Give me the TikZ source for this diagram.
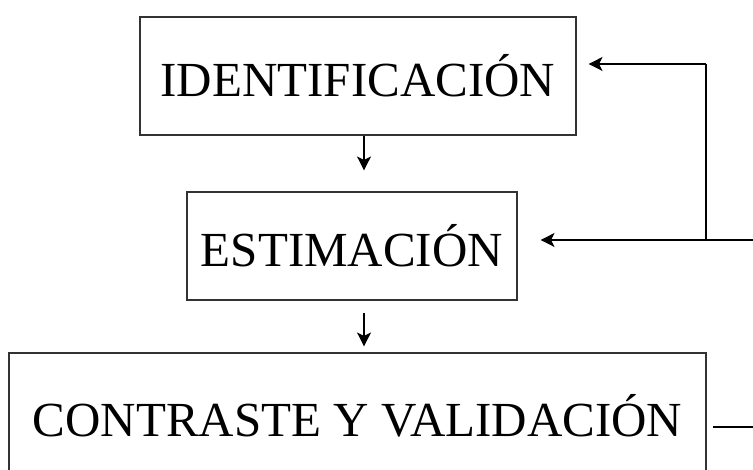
\documentclass[tikz,border=0pt]{standalone}
\usepackage{fontspec}
\setmainfont{Liberation Serif}
\usetikzlibrary{arrows.meta}
\begin{document}
\begin{tikzpicture}[x=1pt,y=-1pt,
  box/.style={draw=black!80,line width=1.1pt,inner sep=0pt,font=\fontsize{49}{49}\selectfont},
  conn/.style={draw=black,line width=1.1pt},
  arr/.style={conn,arrows={-Stealth[length=14pt,width=14pt,inset=3.5pt]}}]
\useasboundingbox (0,0) rectangle (753,470);
\node[box,minimum width=436pt,minimum height=118pt,text height=42pt,text depth=0pt] (b1) at (358,76) {IDENTIFICACIÓN};
\node[box,minimum width=330pt,minimum height=108pt,text height=41pt,text depth=0pt] (b2) at (352,246) {ESTIMACIÓN};
\node[box,minimum width=697pt,minimum height=166pt,text height=20pt,text depth=20pt] (b3) at (357.5,436) {CONTRASTE Y VALIDACIÓN};
\coordinate (ax) at (364,0);
\coordinate (e1) at (753,427);
\coordinate (e2) at (753,240);
\coordinate (j) at (706,240);
\coordinate (k) at (706,64);
\draw[arr,shorten >=21pt] (b1.south -| ax) -- (b2.north -| ax);
\draw[arr,shorten <=12pt,shorten >=6pt] (b2.south -| ax) -- (b3.north -| ax);
\draw[conn,shorten <=6pt] (b3.east |- e1) -- (e1);
\draw[arr,shorten >=23pt] (e2) -- (b2.east |- e2);
\draw[conn] (j) -- (k);
\draw[arr,shorten >=12pt] (k) -- (b1.east |- k);
\end{tikzpicture}
\end{document}
